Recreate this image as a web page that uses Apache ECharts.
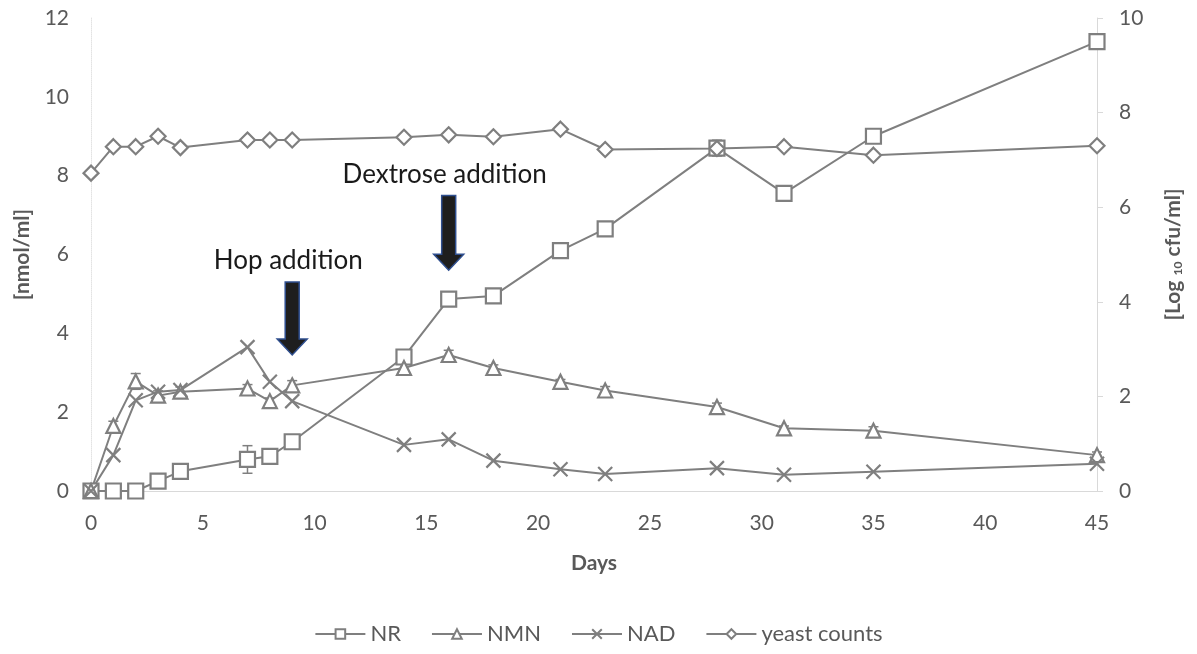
<!DOCTYPE html>
<html>
<head>
<meta charset="utf-8">
<script src="https://cdn.jsdelivr.net/npm/echarts@6/dist/echarts.min.js"></script>
<style>
html,body{margin:0;padding:0;background:#fff;}
#chart{width:1197px;height:654px;}
</style>
</head>
<body>
<div id="chart"></div>
<script>
// ---- data ----
const days = [0, 1, 2, 3, 4, 7, 8, 9, 14, 16, 18, 21, 23, 28, 31, 35, 45];
const nrValues   = [0, 0, 0, 0.25, 0.5, 0.8, 0.88, 1.25, 3.4, 4.87, 4.95, 6.1, 6.65, 8.7, 7.55, 9.0, 11.4];
const nrErr      = [0.05, 0, 0, 0.08, 0.1, 0.35, 0.1, 0.08, 0.12, 0.15, 0.08, 0.1, 0.08, 0.2, 0.12, 0.1, 0.1];
const nmnValues  = [0, 1.65, 2.78, 2.42, 2.52, 2.6, 2.28, 2.68, 3.12, 3.45, 3.12, 2.77, 2.55, 2.13, 1.59, 1.53, 0.91];
const nmnErr     = [0.05, 0.12, 0.2, 0.12, 0.12, 0.1, 0.08, 0.12, 0.1, 0.12, 0.08, 0.06, 0.1, 0.1, 0.06, 0.1, 0.08];
const nadValues  = [0, 0.91, 2.3, 2.52, 2.56, 3.65, 2.77, 2.28, 1.17, 1.31, 0.77, 0.55, 0.43, 0.58, 0.41, 0.49, 0.69];
const yeastValues = [6.72, 7.28, 7.28, 7.5, 7.26, 7.42, 7.42, 7.42, 7.48, 7.53, 7.49, 7.65, 7.22, 7.24, 7.28, 7.1, 7.3];
const leftTicks = [0, 2, 4, 6, 8, 10, 12];
const rightTicks = [0, 2, 4, 6, 8, 10];
const xTicks = [0, 5, 10, 15, 20, 25, 30, 35, 40, 45];
const seriesNames = ['NR', 'NMN', 'NAD', 'yeast counts'];
const annotations = [
  {text: 'Hop addition', day: 9, top: 5.3, bottom: 3.45},
  {text: 'Dextrose addition', day: 16, top: 7.5, bottom: 5.6}
];

const GRAY = '#7f7f7f';
const LABEL = '#595959';
const FONT = 'Lato, "Open Sans", sans-serif';
const xPath = 'path://M0,0L10,10M10,0L0,10';

const pairs = (vals) => days.map((d, i) => [d, vals[i]]);
const errData = (vals, errs) => days.map((d, i) => [d, vals[i] - errs[i], vals[i] + errs[i]]);

function errorBarSeries(vals, errs) {
  return {
    type: 'custom',
    yAxisIndex: 0,
    silent: true,
    z: 1,
    data: errData(vals, errs),
    encode: {x: 0, y: [1, 2]},
    renderItem: function (params, api) {
      const x = api.value(0);
      const lo = api.coord([x, api.value(1)]);
      const hi = api.coord([x, api.value(2)]);
      const w = 5;
      const st = {stroke: GRAY, lineWidth: 1.5};
      return {
        type: 'group',
        children: [
          {type: 'line', shape: {x1: lo[0], y1: lo[1], x2: hi[0], y2: hi[1]}, style: st},
          {type: 'line', shape: {x1: lo[0] - w, y1: lo[1], x2: lo[0] + w, y2: lo[1]}, style: st},
          {type: 'line', shape: {x1: hi[0] - w, y1: hi[1], x2: hi[0] + w, y2: hi[1]}, style: st}
        ]
      };
    }
  };
}

function lineSeries(name, vals, symbol, size, yIdx) {
  return {
    name: name,
    type: 'line',
    yAxisIndex: yIdx,
    data: pairs(vals),
    symbol: symbol,
    symbolSize: size,
    showAllSymbol: true,
    lineStyle: {color: GRAY, width: 2},
    itemStyle: {color: '#fff', borderColor: GRAY, borderWidth: 2.2},
    emphasis: {disabled: true},
    z: 3
  };
}

const chart = echarts.init(document.getElementById('chart'), null, {renderer: 'canvas'});
const option = {
  animation: false,
  backgroundColor: '#fff',
  textStyle: {fontFamily: FONT},
  grid: {left: 91, right: 100, top: 18, bottom: 163, containLabel: false},
  legend: {
    bottom: 4,
    left: 'center',
    itemWidth: 50,
    itemHeight: 12,
    itemGap: 30,
    textStyle: {color: LABEL, fontSize: 22, fontFamily: FONT},
    data: seriesNames
  },
  xAxis: {
    type: 'value',
    min: 0, max: 45, interval: 5,
    name: 'Days',
    nameLocation: 'middle',
    nameGap: 62,
    nameTextStyle: {color: LABEL, fontSize: 21, fontWeight: 'bold', fontFamily: FONT},
    axisLine: {lineStyle: {color: '#d9d9d9', width: 1}},
    axisTick: {show: false},
    axisLabel: {color: LABEL, fontSize: 21, margin: 22, formatter: v => xTicks.includes(v) ? String(v) : ''},
    splitLine: {show: false}
  },
  yAxis: [
    {
      type: 'value', min: 0, max: 12, interval: 2, position: 'left',
      name: '[nmol/ml]', nameLocation: 'middle', nameGap: 58, nameRotate: 90,
      nameTextStyle: {color: LABEL, fontSize: 21, fontWeight: 'bold', fontFamily: FONT},
      axisLine: {show: true, lineStyle: {color: '#e3e3e3', width: 1, type: 'dotted'}},
      axisTick: {show: false},
      axisLabel: {color: LABEL, fontSize: 21, margin: 22, formatter: v => leftTicks.includes(v) ? String(v) : ''},
      splitLine: {show: false}
    },
    {
      type: 'value', min: 0, max: 10, interval: 2, position: 'right',
      name: '{a|[Log }{s|10}{a| cfu/ml]}', nameLocation: 'middle', nameGap: 66, nameRotate: 90,
      nameTextStyle: {
        rich: {
          a: {color: LABEL, fontSize: 21, fontWeight: 'bold', fontFamily: FONT},
          s: {color: LABEL, fontSize: 12, fontWeight: 'bold', fontFamily: FONT, verticalAlign: 'bottom', padding: [8, 0, 0, 0]}
        }
      },
      axisLine: {show: true, lineStyle: {color: '#d9d9d9', width: 1}},
      axisTick: {show: true, inside: false, length: 6, lineStyle: {color: '#d9d9d9'}},
      axisLabel: {color: LABEL, fontSize: 21, margin: 22, formatter: v => rightTicks.includes(v) ? String(v) : ''},
      splitLine: {show: false}
    }
  ],
  series: [
    errorBarSeries(nrValues, nrErr),
    errorBarSeries(nmnValues, nmnErr),
    lineSeries('NR', nrValues, 'rect', 15, 0),
    lineSeries('NMN', nmnValues, 'triangle', 14, 0),
    lineSeries('NAD', nadValues, xPath, 14, 0),
    lineSeries('yeast counts', yeastValues, 'diamond', 15, 1)
  ]
};
chart.setOption(option);

// annotation arrows placed through the chart's own scales
function drawAnnotations() {
  const els = [];
  annotations.forEach(a => {
    const t = chart.convertToPixel({xAxisIndex: 0, yAxisIndex: 0}, [a.day, a.top]);
    const b = chart.convertToPixel({xAxisIndex: 0, yAxisIndex: 0}, [a.day, a.bottom]);
    const cx = t[0];
    const sw = 7, hw = 15, hh = 16;
    els.push({
      type: 'polygon',
      shape: {points: [
        [cx - sw, t[1]], [cx + sw, t[1]], [cx + sw, b[1] - hh], [cx + hw, b[1] - hh],
        [cx, b[1]], [cx - hw, b[1] - hh], [cx - sw, b[1] - hh]
      ]},
      style: {fill: '#1e1e1e', stroke: '#2f4f8f', lineWidth: 1.5},
      z: 10
    });
    els.push({
      type: 'text',
      x: cx - 4, y: t[1] - 8,
      style: {text: a.text, fill: '#1a1a1a', fontSize: 26, fontFamily: FONT, align: 'center', verticalAlign: 'bottom'},
      z: 10
    });
  });
  chart.setOption({graphic: {elements: els}});
}
drawAnnotations();
</script>
</body>
</html>
